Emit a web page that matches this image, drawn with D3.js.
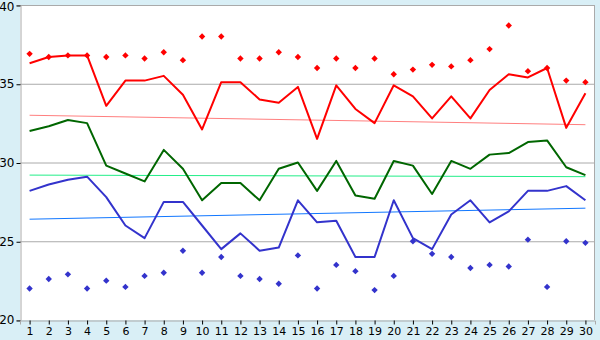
<!DOCTYPE html>
<html lang="en">
<head>
  <meta charset="UTF-8">
  <title>Temperatures</title>
  <script src="https://d3js.org/d3.v7.min.js"></script>
  <style>
    body { margin: 0; background: #d9eff6; }
    text { font-family: "DejaVu Sans", sans-serif; font-size: 11px; fill: #000; }
  </style>
</head>
<body>
  <div id="chart"></div>
  <script>
    const days = d3.range(1, 31);
    const yTicks = [20, 25, 30, 35, 40];

    const redLine = [36.3, 36.7, 36.8, 36.8, 33.6, 35.2, 35.2, 35.5, 34.3, 32.1,
      35.1, 35.1, 34.0, 33.8, 34.8, 31.5, 34.9, 33.4, 32.5, 34.9,
      34.2, 32.8, 34.2, 32.8, 34.6, 35.6, 35.4, 36.0, 32.2, 34.4];
    const redDots = [36.9, 36.7, 36.8, 36.8, 36.7, 36.8, 36.6, 37.0, 36.5, 38.0,
      38.0, 36.6, 36.6, 37.0, 36.7, 36.0, 36.6, 36.0, 36.6, 35.6,
      35.9, 36.2, 36.1, 36.5, 37.2, 38.7, 35.8, 36.0, 35.2, 35.1];
    const greenLine = [32.0, 32.3, 32.7, 32.5, 29.8, 29.3, 28.8, 30.8, 29.6, 27.6,
      28.7, 28.7, 27.6, 29.6, 30.0, 28.2, 30.1, 27.9, 27.7, 30.1,
      29.8, 28.0, 30.1, 29.6, 30.5, 30.6, 31.3, 31.4, 29.7, 29.2];
    const blueLine = [28.2, 28.6, 28.9, 29.1, 27.8, 26.0, 25.2, 27.5, 27.5, 26.0,
      24.5, 25.5, 24.4, 24.6, 27.6, 26.2, 26.3, 24.0, 24.0, 27.6,
      25.2, 24.5, 26.7, 27.6, 26.2, 26.9, 28.2, 28.2, 28.5, 27.6];
    const blueDots = [22.0, 22.6, 22.9, 22.0, 22.5, 22.1, 22.8, 23.0, 24.4, 23.0,
      24.0, 22.8, 22.6, 22.3, 24.1, 22.0, 23.5, 23.1, 21.9, 22.8,
      25.0, 24.2, 24.0, 23.3, 23.5, 23.4, 25.1, 22.1, 25.0, 24.9];
    // trend lines: [first day value, last day value]
    const redTrend = [33.0, 32.4];
    const greenTrend = [29.2, 29.1];
    const blueTrend = [26.4, 27.1];

    const W = 600, H = 340;
    const margin = { top: 5, right: 5, bottom: 20, left: 20 };
    const width = W - margin.left - margin.right;
    const height = H - margin.top - margin.bottom;

    const svg = d3.select("#chart").append("svg")
      .attr("width", W).attr("height", H);
    const g = svg.append("g")
      .attr("transform", `translate(${margin.left},${margin.top})`);

    const x = d3.scalePoint().domain(days).range([0, width]).padding(0.5);
    const y = d3.scaleLinear().domain([20, 40]).range([height, 0]);

    g.append("rect").attr("width", width).attr("height", height).attr("fill", "#fff");

    // grid
    g.selectAll(".grid").data(yTicks.slice(1)).enter().append("line")
      .attr("x1", 0).attr("x2", width)
      .attr("y1", d => y(d) + 0.5).attr("y2", d => y(d) + 0.5)
      .attr("stroke", "#aaa");
    g.append("line").attr("x1", width - 0.5).attr("x2", width - 0.5)
      .attr("y1", 0).attr("y2", height).attr("stroke", "#aaa");

    const yAxis = g.append("g").attr("transform", "translate(0.5,0)")
      .call(d3.axisLeft(y).tickValues(yTicks).tickSize(4).tickPadding(2));
    yAxis.select(".domain").attr("stroke", "#aaa");
    yAxis.selectAll(".tick line").attr("stroke", "#000").attr("transform", "translate(0,0.5)");
    yAxis.selectAll("text").style("font-size", "12px")
      .attr("dy", d => d === 40 ? "0.42em" : "0.32em");

    const xAxis = g.append("g").attr("transform", `translate(0,${height + 0.5})`)
      .call(d3.axisBottom(x).tickSize(4).tickPadding(3));
    xAxis.select(".domain").attr("stroke", "#aaa");
    xAxis.selectAll(".tick line").attr("stroke", "#000");

    const line = d3.line().x((d, i) => x(days[i])).y(d => y(d));
    const trend = t => [[days[0], t[0]], [days[days.length - 1], t[1]]];
    const tline = d3.line().x(d => x(d[0])).y(d => y(d[1]));

    [[redTrend, "#ff7f7f"], [greenTrend, "#22ee88"], [blueTrend, "#1177ff"]].forEach(([t, c]) => {
      g.append("path").datum(trend(t)).attr("d", tline)
        .attr("fill", "none").attr("stroke", c).attr("stroke-width", 1);
    });

    [[redLine, "#ff0000"], [greenLine, "#006600"], [blueLine, "#3333cc"]].forEach(([s, c]) => {
      g.append("path").datum(s).attr("d", line)
        .attr("fill", "none").attr("stroke", c).attr("stroke-width", 2)
        .attr("stroke-linejoin", "round");
    });

    const sym = d3.symbol().type(d3.symbolDiamond2).size(26);
    [[redDots, "#ff0000"], [blueDots, "#3333cc"]].forEach(([s, c]) => {
      g.selectAll(null).data(s).enter().append("path")
        .attr("d", sym)
        .attr("transform", (d, i) => `translate(${x(days[i])},${y(d)})`)
        .attr("fill", c);
    });
  </script>
</body>
</html>
